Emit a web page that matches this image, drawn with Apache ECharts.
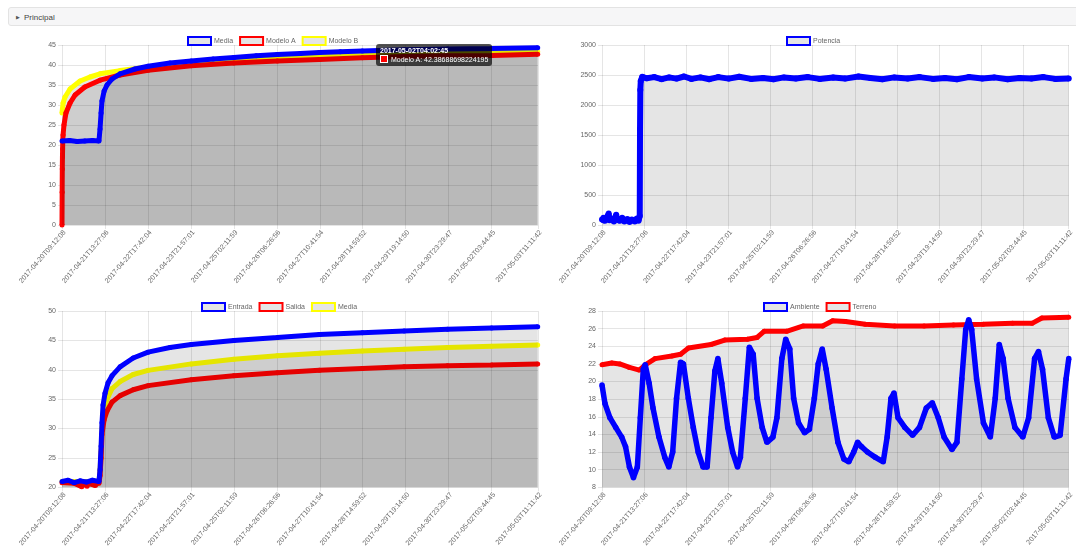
<!DOCTYPE html>
<html><head><meta charset="utf-8">
<script src="https://cdn.jsdelivr.net/npm/echarts@6/dist/echarts.min.js"></script>
<style>
html,body{margin:0;padding:0;background:#fff;overflow:hidden;width:1076px;height:549px;}
#chart{position:absolute;left:0;top:0;width:1076px;height:549px;}
#hdr{position:absolute;left:8px;top:7px;width:1100px;height:19px;background:#f6f6f7;border:1px solid #e3e3e3;border-radius:3px;font:8px 'Liberation Sans',Arial,sans-serif;color:#444;line-height:18px;z-index:5;box-sizing:border-box;padding-left:7px;}
#hdr .arr{font-size:5px;color:#555;margin-right:4px;vertical-align:1px;}
</style></head><body>
<div id="chart"></div>
<div id="hdr"><span class="arr">&#9654;</span>Principal</div>
<script>
// x values are hours since 2017-04-20T09:12:08
const TICK_LABELS = ['2017-04-20T09:12:08','2017-04-21T13:27:06','2017-04-22T17:42:04','2017-04-23T21:57:01','2017-04-25T02:11:59','2017-04-26T06:26:56','2017-04-27T10:41:54','2017-04-28T14:59:52','2017-04-29T19:14:50','2017-04-30T23:29:47','2017-05-02T03:44:45','2017-05-03T11:11:42'];
const TICK_HOURS = [0,28.25,56.5,84.75,113,141.25,169.5,197.75,226,254.25,282.5,313];

const TIP_TITLE = '2017-05-02T04:02:45';
const TIP_HOUR = 282.8;

const mediaTop = [[0,21],[5,21.1],[10,20.9],[15,21],[20,21.1],[24.3,21],[25,24],[25.7,28],[26.3,31],[27.7,33.5],[29.6,35],[32.9,36.5],[38.2,37.8],[48,39],[56.6,39.7],[71,40.5],[85,41],[99.4,41.5],[113,41.9],[127.7,42.3],[141.6,42.6],[156.7,42.9],[169.2,43.1],[183,43.3],[197.5,43.5],[225,43.8],[253.5,44],[282.5,44.1],[312.8,44.3]];
const modeloA = [[0,0],[0.1,8.2],[0.2,14],[0.3,17],[0.4,19],[0.5,21.2],[0.7,22.5],[1.3,25],[2.6,28],[5.3,30.5],[8.6,32.5],[15,34.5],[25,36.2],[38.2,37.5],[56.6,38.7],[85,39.8],[113,40.5],[141.6,41],[169.2,41.4],[197.5,41.8],[225,42.1],[253.5,42.3],[282.8,42.38688698224195],[312.8,42.7]];
const modeloB = [[0,28],[0.7,30.5],[2,32],[5.3,34],[11.9,36],[18.4,37],[25,37.8],[38.2,38.6],[56.6,39.5],[85,40.5],[113,41.2],[141.6,41.7],[169.2,42.1],[197.5,42.4],[225,42.7],[253.5,42.9],[282.5,43.1],[312.8,43.3]];

const potencia = [[0,90],[1,120],[2,70],[3,100],[4.5,190],[5,80],[6.5,110],[8,60],[9.5,170],[10,90],[12,70],[13.5,120],[15,60],[17,100],[18.5,50],[20,90],[22,60],[23.5,110],[24.5,70],[25.3,150],[25.5,1600],[25.7,2250],[26,2400],[27,2470],[30,2445],[35,2465],[40,2430],[45,2460],[50,2440],[55,2475],[60,2435],[66,2460],[72,2430],[78,2465],[85,2440],[92,2470],[100,2435],[108,2450],[115,2430],[122,2460],[130,2440],[138,2465],[146,2435],[155,2460],[163,2440],[172,2475],[180,2450],[188,2430],[196,2460],[205,2440],[213,2465],[222,2435],[230,2450],[238,2430],[246,2465],[255,2440],[263,2460],[272,2430],[280,2450],[288,2440],[296,2465],[304,2435],[313,2440]];

const entrada = [[0,21],[4,21.2],[8,20.8],[12,21.1],[16,20.9],[20,21.2],[24.3,21],[25,23],[25.7,27],[26.3,31],[27,34],[28.3,36],[30.3,37.8],[32.9,39],[38.2,40.5],[46.8,42],[56.6,43],[71,43.8],[85,44.3],[113,45],[141.6,45.5],[169.2,46],[197.5,46.3],[225,46.6],[253.5,46.9],[282.5,47.1],[312.8,47.3]];
const salida = [[0,20.8],[8,20.7],[13,20.1],[13.2,20.7],[16.5,20.2],[16.7,20.7],[22,20.3],[22.2,20.7],[24.3,20.7],[25,22],[25.7,25],[26.3,29],[27.7,31.5],[29.6,33],[32.9,34.5],[38.2,35.6],[46.8,36.6],[56.6,37.3],[85,38.3],[113,39],[141.6,39.5],[169.2,39.9],[197.5,40.2],[225,40.5],[253.5,40.7],[282.5,40.8],[312.8,41]];
const mediaBottom = [[0,21],[24.3,21],[25,23],[25.7,26],[26.3,30],[27.7,33],[29.6,35],[32.9,36.8],[38.2,38],[46.8,39.2],[56.6,39.9],[85,41],[113,41.8],[141.6,42.4],[169.2,42.8],[197.5,43.2],[225,43.5],[253.5,43.8],[282.5,44],[312.8,44.2]];

const terreno = [[0,21.9],[6.6,22.1],[11.9,22],[18.4,21.6],[25,21.3],[29,21.9],[35.6,22.6],[46.8,22.9],[52.7,23.1],[58,23.8],[73.1,24.2],[82.3,24.7],[97.5,24.8],[104,25],[108.7,25.7],[123.8,25.7],[135,26.3],[148,26.3],[154.7,26.9],[163.3,26.8],[176.5,26.5],[196.2,26.3],[216,26.3],[235.7,26.4],[255.5,26.5],[275.3,26.6],[288.4,26.6],[295,27.2],[313,27.3]];
const ambiente = [[0,19.6],[2,17.5],[5.3,15.9],[9.2,14.8],[13.2,13.7],[15.8,12.6],[18.4,10.3],[21.1,9.1],[23.7,10.3],[25.7,15.9],[27.7,21.4],[29,21.9],[31.6,19.8],[34.2,17],[38.2,13.7],[42.1,11.4],[44.8,10.3],[47.4,12],[50,18.1],[52.7,22.2],[54.6,22],[57.9,18.1],[61.2,14.8],[64.5,12],[67.8,10.3],[70.5,10.3],[73.1,15.9],[75.7,21.2],[77.7,22.6],[80.3,19.8],[84.3,14.8],[87.6,12],[90.9,10.3],[92.8,11.4],[96.1,18.1],[98.8,23.9],[101.4,23.1],[104,18.1],[107.4,14.8],[110.6,13.1],[114.6,13.7],[117.3,15.9],[120.6,22.6],[123.2,24.8],[125.9,23.7],[128.5,18.1],[131.8,15.3],[135.8,14.2],[139.1,14.6],[142.4,18.1],[145,22],[147.7,23.7],[150.3,21.4],[154.3,17],[158.2,13.1],[162.2,11.2],[165.5,10.9],[168.8,12],[171.4,13.1],[174.1,12.6],[178,12],[183.3,11.4],[188.6,10.9],[191.2,13.7],[193.8,18.1],[195.8,18.7],[198.5,15.9],[203.1,14.8],[208.3,13.9],[212.9,14.8],[217.5,17],[221.5,17.6],[225.5,15.9],[229.4,13.7],[234.7,12.3],[238,13.1],[241.3,20.3],[243.9,25.9],[245.9,27],[247.9,25.9],[251.2,20.3],[255.8,15.3],[260.4,13.7],[263.7,18.1],[266.4,24.2],[269,22.6],[272.3,18.1],[276.9,14.8],[282.2,13.7],[286.1,15.9],[290.1,22.6],[292.7,23.4],[295.4,21.4],[299.3,15.9],[303.3,13.7],[307.2,13.9],[311.2,20.3],[313,22.6]];

const FONT = "'Liberation Sans', Arial, sans-serif";
const GRID_COLOR = 'rgba(0,0,0,0.1)';
const FILL = 'rgba(0,0,0,0.1)';
const BLUE = '#0000ff', RED = '#ff0000', YELLOW = '#ffff00';

const grids = [
  {left:62, top:45, width:476, height:180},
  {left:602, top:45, width:476, height:180},
  {left:62, top:311, width:476, height:180},
  {left:602, top:311, width:476, height:180}
];
const yRanges = [[0,45,5],[0,3000,500],[20,50,5],[8,28,2]];

function xAxis(i){
  return {type:'value', gridIndex:i, min:0, max:TICK_HOURS[TICK_HOURS.length-1],
    axisLine:{show:false},
    axisTick:{show:true, length:4, lineStyle:{color:GRID_COLOR}, customValues:TICK_HOURS},
    splitLine:{show:true, lineStyle:{color:GRID_COLOR, width:1}},
    axisLabel:{customValues:TICK_HOURS, rotate:49, align:'right', verticalAlign:'top', margin:4,
      fontSize:7, color:'#666', fontFamily:FONT,
      formatter:function(v){ let best=0; for(let j=0;j<TICK_HOURS.length;j++){ if(Math.abs(TICK_HOURS[j]-v)<Math.abs(TICK_HOURS[best]-v)) best=j; } return TICK_LABELS[best]; }}
  };
}
function yAxis(i){
  const r = yRanges[i];
  return {type:'value', gridIndex:i, min:r[0], max:r[1], interval:r[2],
    axisLine:{show:false},
    axisTick:{show:true, length:4, lineStyle:{color:GRID_COLOR}},
    splitLine:{show:true, lineStyle:{color:GRID_COLOR}},
    axisLabel:{fontSize:7, color:'#666', fontFamily:FONT, margin:6, formatter:function(v){return String(v);}}
  };
}
function line(name, data, color, gi, z, w){
  return {type:'line', name:name, data:data, xAxisIndex:gi, yAxisIndex:gi, color:color,
    symbol:'circle', symbolSize:w, showSymbol:true, z:z,
    lineStyle:{width:w, color:color}, itemStyle:{color:color},
    areaStyle:{color:FILL, opacity:1, origin:'start'}, emphasis:{disabled:true}, animation:false};
}
function legend(items, left, top){
  return {data:items.map(it=>({name:it[0], icon:'rect', itemStyle:{color:FILL, borderColor:it[1], borderWidth:2}})),
    left:left, top:top, itemWidth:23, itemHeight:8, itemGap:6,
    selectedMode:false,
    textStyle:{fontSize:7, color:'#666', fontFamily:FONT, padding:[0,0,0,-2]}};
}

const series = [
  line('Media', mediaTop, BLUE, 0, 5, 5),
  line('Modelo A', modeloA, RED, 0, 4, 5),
  line('Modelo B', modeloB, YELLOW, 0, 3, 5),
  line('Potencia', potencia, BLUE, 1, 5, 6),
  line('Entrada', entrada, BLUE, 2, 5, 5),
  line('Salida', salida, RED, 2, 4, 5),
  line('Media', mediaBottom, YELLOW, 2, 3, 5),
  line('Ambiente', ambiente, BLUE, 3, 5, 5.5),
  line('Terreno', terreno, RED, 3, 4, 5)
];

const chart = echarts.init(document.getElementById('chart'), null, {renderer:'canvas'});
chart.setOption({
  animation:false,
  grid:grids,
  xAxis:[0,1,2,3].map(xAxis),
  yAxis:[0,1,2,3].map(yAxis),
  legend:[
    legend([['Media',BLUE],['Modelo A',RED],['Modelo B',YELLOW]], 182, 31),
    legend([['Potencia',BLUE]], 781, 31),
    legend([['Entrada',BLUE],['Salida',RED],['Media',YELLOW]], 196, 297),
    legend([['Ambiente',BLUE],['Terreno',RED]], 758, 297)
  ],
  tooltip:{trigger:'item', triggerOn:'none', alwaysShowContent:true, transitionDuration:0,
    position:[376,44], backgroundColor:'rgba(0,0,0,0.68)', borderWidth:0, padding:[2,4],
    textStyle:{color:'#fff', fontSize:7, fontFamily:FONT},
    extraCssText:'box-shadow:none;border-radius:3px;line-height:9px;',
    formatter:function(p){
      return '<b>'+TIP_TITLE+'</b><br/><span style="display:inline-block;width:6px;height:6px;background:'+p.color+';border:1px solid #fff;margin-right:3px;vertical-align:-1px"></span>'+p.seriesName+': '+p.value[1];
    }},
  series:series
});
const tipIndex = modeloA.findIndex(d=>d[0]===TIP_HOUR);
chart.dispatchAction({type:'showTip', seriesIndex:1, dataIndex:tipIndex});
</script>
</body></html>
